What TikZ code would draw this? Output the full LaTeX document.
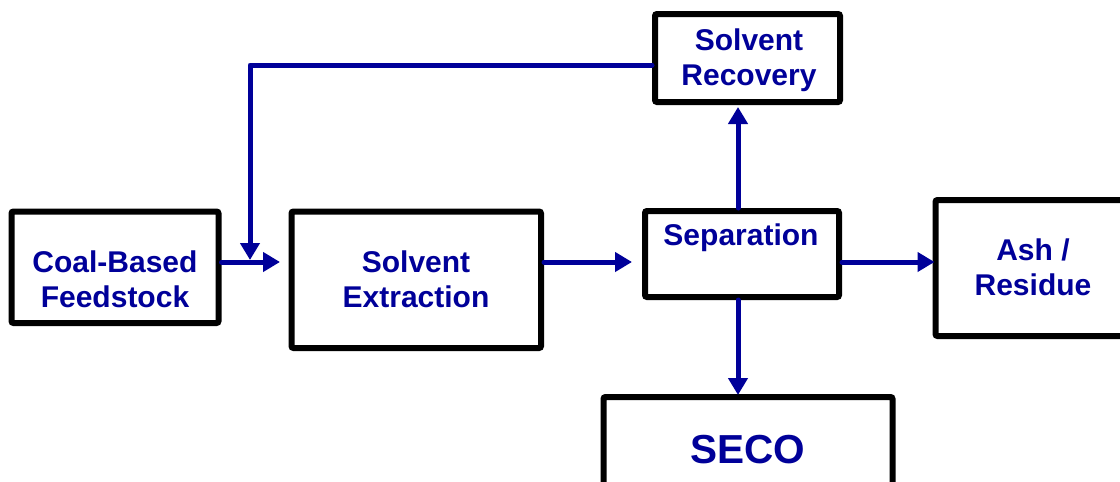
\documentclass[tikz,border=0pt]{standalone}
\usepackage{fontspec}
\setmainfont{Liberation Sans}
\usetikzlibrary{arrows.meta,calc}
\definecolor{navy}{RGB}{0,0,153}
\begin{document}
\begin{tikzpicture}[x=1pt,y=-1pt,
  box/.style={draw=black,line width=6pt,rounded corners=2pt,inner sep=0pt,fill=white},
  txt/.style={text=navy,font=\bfseries\fontsize{30}{35}\selectfont,align=center,inner sep=0pt},
  bigtxt/.style={text=navy,font=\bfseries\fontsize{40.5}{46}\selectfont,align=center,inner sep=0pt},
  arr/.style={draw=navy,line width=5pt,line join=round,line cap=round,-{Triangle[length=17pt,width=19pt]}}]
\useasboundingbox (0,0) rectangle (1120,482);
\clip (0,0) rectangle (1120,482);
% boxes
\node[box,minimum width=207pt,minimum height=111.5pt] (coal) at (115,267.25) {};
\node[box,minimum width=249.5pt,minimum height=136.5pt] (ext) at (416.25,279.75) {};
\node[box,minimum width=185pt,minimum height=88pt] (rec) at (747.5,58) {};
\node[box,minimum width=194pt,minimum height=86pt] (sep) at (742,254) {};
\node[box,minimum width=194.5pt,minimum height=136pt] (ash) at (1032.75,268) {};
\node[box,minimum width=289pt,minimum height=103pt] (seco) at (748,448.5) {};
% texts
\node[txt] (coaltxt) at (115,279) {Coal-Based\\Feedstock};
\node[txt] (exttxt) at (416,279) {Solvent\\Extraction};
\node[txt] (rectxt) at (749,60) {Solvent\\Recovery};
\node[txt] (septxt) at (741,237.5) {Separation};
\node[txt] (ashtxt) at (1033,267) {Ash /\\Residue};
\node[bigtxt] (secotxt) at (748,450) {SECO};
% helper coordinates
\coordinate (y262) at (0,262);
\coordinate (fbx) at (250,65);
\coordinate (x738) at (738,0);
% connectors
\draw[arr,shorten >=8.5pt] (coal.east |- y262) -- (ext.west |- y262);
\draw[arr,shorten >=2pt] (rec.west |- fbx) -- (fbx) -- (fbx |- y262);
\draw[arr,shorten >=10pt] (ext.east |- y262) -- (sep.west |- y262);
\draw[arr,shorten >=2pt] (sep.north -| x738) -- (rec.south -| x738);
\draw[arr,shorten >=-1pt] (sep.south -| x738) -- (seco.north -| x738);
\draw[arr,shorten >=-2pt] (sep.east |- y262) -- (ash.west |- y262);
\end{tikzpicture}
\end{document}
